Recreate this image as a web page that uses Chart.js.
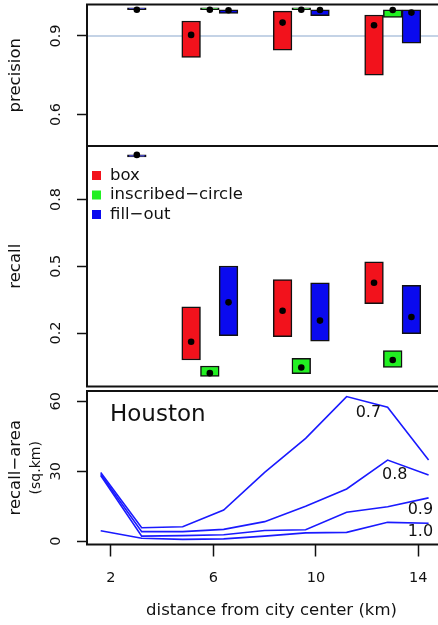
<!DOCTYPE html>
<html>
<head>
<meta charset="utf-8">
<script src="https://cdn.jsdelivr.net/npm/chart.js@4/dist/chart.umd.min.js"></script>
<style>
  html, body { margin: 0; padding: 0; width: 438px; height: 625px; overflow: hidden; background: #fff; }
  canvas { position: absolute; left: 0; top: 0; }
</style>
</head>
<body>
<canvas id="precisionChart" width="470" height="625"></canvas>
<canvas id="recallChart" width="470" height="625"></canvas>
<canvas id="areaChart" width="470" height="625"></canvas>
<script>
// distance bins (km) where the three region methods are compared
const groupDistance = [2.28, 5.86, 9.43, 13.0];
const methodNames = ['box', 'inscribed−circle', 'fill−out'];

// precision: [low, high] box per bin and the mean dot (null = no box)
const boxPrecision = [null, [0.818, 0.957], [0.846, 0.995], [0.75, 0.98]];
const boxPrecisionMean = [null, 0.904, 0.951, 0.941];
const circlePrecision = [null, [1, 1], [1, 1], [0.971, 1]];
const circlePrecisionMean = [null, 1, 1, 0.999];
const filloutPrecision = [[1, 1], [0.986, 1], [0.977, 1], [0.872, 1]];
const filloutPrecisionMean = [1, 0.998, 0.999, 0.989];

// recall
const boxRecall = [null, [0.079, 0.318], [0.184, 0.44], [0.332, 0.52]];
const boxRecallMean = [null, 0.161, 0.30, 0.426];
const circleRecall = [null, [0.005, 0.052], [0.018, 0.087], [0.046, 0.121]];
const circleRecallMean = [null, 0.02, 0.045, 0.079];
const filloutRecall = [[1, 1], [0.188, 0.501], [0.164, 0.426], [0.197, 0.414]];
const filloutRecallMean = [1, 0.338, 0.256, 0.272];

// recall-area (sq.km) for each recall level
const areaDistance = [1.6, 3.2, 4.8, 6.4, 8.0, 9.6, 11.2, 12.8, 14.4];
const area07 = [29.5, 5.8, 6.2, 13.4, 29.5, 44.1, 62.0, 57.4, 34.8];
const area08 = [28.7, 4.1, 4.1, 5.1, 8.4, 15.0, 22.4, 34.8, 28.4];
const area09 = [28.2, 2.2, 2.4, 2.8, 4.6, 4.9, 12.4, 14.8, 18.6];
const area10 = [4.5, 1.3, 0.8, 1.0, 2.2, 3.6, 3.8, 8.1, 7.7];
const recallLevels = ['0.7', '0.8', '0.9', '1.0'];

const precisionTicks = [0.6, 0.9];
const recallTicks = [0.2, 0.5, 0.8];
const areaTicks = [0, 30, 60];
const distanceTicks = [2, 6, 10, 14];

Chart.defaults.font.family = "'DejaVu Sans', sans-serif";
Chart.defaults.color = '#111';

const INK = '#111';
const methodColors = ['#f2121c', '#22f022', '#0a0aef'];
const X_MIN = 1.065, X_MAX = 15.47;

function boxSeries(k, ranges, means) {
  return {
    label: methodNames[k],
    backgroundColor: methodColors[k],
    borderColor: INK,
    borderWidth: 1.5,
    borderSkipped: false,
    barThickness: 18.7,
    minBarLength: 2,
    data: ranges.map((r, i) => r && { x: groupDistance[i], y: r, mean: means[i] }).filter(Boolean)
  };
}

function hiddenX() {
  return { type: 'linear', min: X_MIN, max: X_MAX, offset: false, display: false };
}

function yAxis(min, max, ticks, title, pad) {
  return {
    type: 'linear', min, max,
    afterBuildTicks: s => { s.ticks = ticks.map(v => ({ value: v })); },
    afterFit: s => { s.width = 87; s.paddingTop = 0; s.paddingBottom = 0; },
    grid: { drawOnChartArea: false, tickLength: 10, tickColor: INK, tickWidth: 1.5 },
    border: { display: false },
    ticks: { minRotation: 90, maxRotation: 90, crossAlign: 'center', padding: pad,
             autoSkip: false, color: INK, font: { size: 14.5 } },
    title: { display: true, text: title, color: INK, font: { size: 16.5 }, padding: { top: 6, bottom: 0 } }
  };
}

// box round each panel (right side falls outside the window)
const panelFrame = {
  id: 'panelFrame',
  afterDraw(chart) {
    const { ctx, chartArea: a } = chart;
    ctx.save();
    ctx.strokeStyle = INK;
    ctx.lineWidth = 2;
    ctx.strokeRect(a.left, a.top, a.right - a.left, a.bottom - a.top);
    ctx.restore();
  }
};

// black dot at the mean of every box
const meanDots = {
  id: 'meanDots',
  afterDatasetsDraw(chart) {
    const { ctx } = chart;
    const y = chart.scales.y;
    ctx.save();
    ctx.fillStyle = '#000';
    chart.data.datasets.forEach((ds, di) => {
      chart.getDatasetMeta(di).data.forEach((bar, i) => {
        ctx.beginPath();
        ctx.arc(bar.x, y.getPixelForValue(ds.data[i].mean), 3.3, 0, Math.PI * 2);
        ctx.fill();
      });
    });
    ctx.restore();
  }
};

const refLine = {
  id: 'refLine',
  beforeDatasetsDraw(chart) {
    const { ctx, chartArea: a } = chart;
    const py = chart.scales.y.getPixelForValue(0.9);
    ctx.save();
    ctx.strokeStyle = '#b0c4de';
    ctx.lineWidth = 1.5;
    ctx.beginPath();
    ctx.moveTo(a.left, py);
    ctx.lineTo(a.right, py);
    ctx.stroke();
    ctx.restore();
  }
};

const methodLegend = {
  id: 'methodLegend',
  afterDraw(chart) {
    const { ctx } = chart;
    ctx.save();
    ctx.font = "16.5px 'DejaVu Sans'";
    ctx.textBaseline = 'middle';
    ctx.textAlign = 'left';
    methodNames.forEach((name, k) => {
      const cy = 175.5 + k * 19.5;
      ctx.fillStyle = methodColors[k];
      ctx.fillRect(92, cy - 4.5, 9, 9);
      ctx.fillStyle = INK;
      ctx.fillText(name, 110, cy);
    });
    ctx.restore();
  }
};

const areaNotes = {
  id: 'areaNotes',
  afterDraw(chart) {
    const { ctx, chartArea: a } = chart;
    const { x, y } = chart.scales;
    const spots = [[12.05, 55.2], [13.08, 28.6], [14.08, 13.6], [14.08, 4.1]];
    ctx.save();
    ctx.fillStyle = INK;
    ctx.textBaseline = 'middle';
    ctx.textAlign = 'left';
    ctx.font = "23px 'DejaVu Sans'";
    ctx.fillText('Houston', 110, 415);
    ctx.textAlign = 'center';
    ctx.font = "16px 'DejaVu Sans'";
    recallLevels.forEach((t, i) => {
      ctx.fillText(t, x.getPixelForValue(spots[i][0]), y.getPixelForValue(spots[i][1]));
    });
    ctx.translate(36.5, (a.top + a.bottom) / 2);
    ctx.rotate(-Math.PI / 2);
    ctx.font = "14px 'DejaVu Sans'";
    ctx.fillText('(sq.km)', 0, 0);
    ctx.restore();
  }
};

const common = {
  responsive: false,
  animation: false,
  devicePixelRatio: 1,
  plugins: { legend: { display: false }, tooltip: { enabled: false } }
};

new Chart(document.getElementById('precisionChart'), {
  type: 'bar',
  data: {
    datasets: [
      boxSeries(0, boxPrecision, boxPrecisionMean),
      boxSeries(1, circlePrecision, circlePrecisionMean),
      boxSeries(2, filloutPrecision, filloutPrecisionMean)
    ]
  },
  options: {
    ...common,
    layout: { autoPadding: false, padding: { top: 4.5, bottom: 479, left: 0, right: 14 } },
    scales: { x: hiddenX(), y: yAxis(0.48, 1.02, precisionTicks, 'precision', 9) }
  },
  plugins: [refLine, meanDots, panelFrame]
});

new Chart(document.getElementById('recallChart'), {
  type: 'bar',
  data: {
    datasets: [
      boxSeries(0, boxRecall, boxRecallMean),
      boxSeries(1, circleRecall, circleRecallMean),
      boxSeries(2, filloutRecall, filloutRecallMean)
    ]
  },
  options: {
    ...common,
    layout: { autoPadding: false, padding: { top: 146, bottom: 238.5, left: 0, right: 14 } },
    scales: { x: hiddenX(), y: yAxis(-0.04, 1.04, recallTicks, 'recall', 9) }
  },
  plugins: [meanDots, panelFrame, methodLegend]
});

const areaSeries = [area07, area08, area09, area10];
new Chart(document.getElementById('areaChart'), {
  type: 'line',
  data: {
    datasets: areaSeries.map((vals, i) => ({
      label: recallLevels[i],
      data: vals.map((v, j) => ({ x: areaDistance[j], y: v })),
      borderColor: '#1a1aff',
      borderWidth: 1.6,
      pointRadius: 0,
      tension: 0,
      fill: false
    }))
  },
  options: {
    ...common,
    layout: { autoPadding: false, padding: { top: 391, bottom: 0.5, left: 0, right: 14 } },
    scales: {
      x: {
        type: 'linear', min: X_MIN, max: X_MAX, offset: false,
        afterBuildTicks: s => { s.ticks = distanceTicks.map(v => ({ value: v })); },
        afterFit: s => { s.height = 80; s.paddingLeft = 0; s.paddingRight = 0; },
        grid: { drawOnChartArea: false, tickLength: 12, tickColor: INK, tickWidth: 1.5 },
        border: { display: false },
        ticks: { padding: 13, maxRotation: 0, autoSkip: false, color: INK, font: { size: 14.5 } },
        title: { display: true, text: 'distance from city center (km)', color: INK,
                 font: { size: 16.5 }, padding: { top: 0, bottom: 3.5 } }
      },
      y: yAxis(-1.4, 64.4, areaTicks, 'recall−area', 11.3)
    }
  },
  plugins: [areaNotes, panelFrame]
});
</script>
</body>
</html>
